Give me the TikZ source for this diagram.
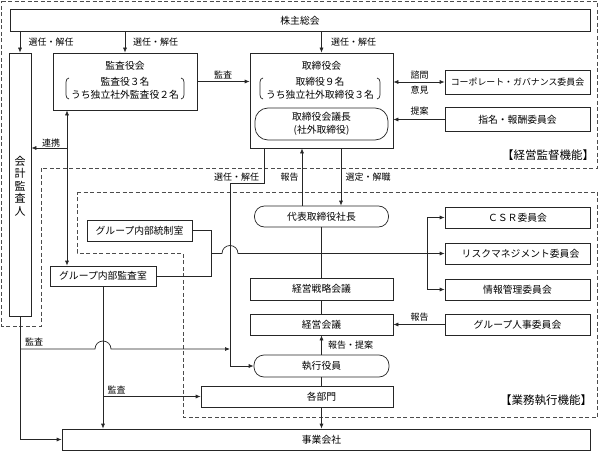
\documentclass[tikz,border=0pt]{standalone}
\usepackage{fontspec}
\setmainfont{Noto Sans CJK JP}
\usetikzlibrary{arrows.meta}
\begin{document}
\begin{tikzpicture}[x=1pt,y=-1pt,
  box/.style={draw=black!85, fill=white, line width=0.7pt, inner sep=0pt, minimum height=21pt, font=\fontsize{9.8}{11}\selectfont, align=center},
  rbox/.style={box, rounded corners=10pt},
  txt/.style={inner sep=0pt, font=\fontsize{9.8}{13}\selectfont, align=center},
  lbl/.style={inner sep=0pt, font=\fontsize{9}{10}\selectfont},
  conn/.style={line width=0.7pt, draw=black!85},
  arr/.style={conn, -{Latex[length=5pt,width=4pt]}},
  darr/.style={conn, {Latex[length=5pt,width=4pt]}-{Latex[length=5pt,width=4pt]}},
  brk/.style={line width=0.7pt, draw=black!85},
  zone/.style={draw=black!70, line width=0.7pt, dash pattern=on 4pt off 2.5pt},
  big/.style={inner sep=0pt, font=\fontsize{11.5}{13}\selectfont}]
\useasboundingbox (0,0) rectangle (600,452);
\fill[white] (0,0) rectangle (600,452);

% zones
\draw[zone] (1.5,1.5) -- (597.5,1.5) -- (597.5,168) -- (41,168) -- (41,326) -- (1.5,326) -- cycle;
\draw[zone] (77,192) -- (597.5,192) -- (597.5,417) -- (183,417) -- (183,253) -- (77,253) -- cycle;

% nodes
\node[box, minimum width=580pt, minimum height=22pt] (soukai) at (300,20.5) {株主総会};
\node[box, minimum width=22pt, minimum height=263pt] (kaikei) at (20,184.5) {};
\node[txt, font=\fontsize{11}{12.5}\selectfont] (kaikeiT) at (20,186) {会\\計\\監\\査\\人};

\node[box, minimum width=144pt, minimum height=57pt] (kansa) at (125,81.5) {};
\node[txt] (kansaT) at (125,66) {監査役会};
\node[txt] (kansaM) at (125,88.5) {監査役３名\\うち独立社外監査役２名};
\draw[brk] (69,78) to[out=180,in=90] (66,82) -- (66,95) to[out=-90,in=180] (69,99);
\draw[brk] (181,78) to[out=0,in=90] (184,82) -- (184,95) to[out=-90,in=0] (181,99);

\node[box, minimum width=143pt, minimum height=95pt] (torishimari) at (321.5,100.5) {};
\node[txt] (toriT) at (321.5,66) {取締役会};
\node[txt] (toriM) at (320,88.5) {取締役９名\\うち独立社外取締役３名};
\draw[brk] (263,78) to[out=180,in=90] (260,82) -- (260,95) to[out=-90,in=180] (263,99);
\draw[brk] (377,78) to[out=0,in=90] (380,82) -- (380,95) to[out=-90,in=0] (377,99);
\node[rbox, minimum width=133pt, minimum height=32pt, rounded corners=13pt, font=\fontsize{9.8}{13.5}\selectfont] (gichou) at (321.5,124) {取締役会議長\\(社外取締役)};

\node[box, minimum width=145pt, minimum height=24pt, font=\fontsize{8.9}{11}\selectfont] (cg) at (517.5,82) {コーポレート・ガバナンス委員会};
\node[box, minimum width=145pt, minimum height=24pt] (shimei) at (517.5,119.5) {指名・報酬委員会};

\node[rbox, minimum width=134pt] (daihyo) at (321.5,216.5) {代表取締役社長};
\node[box, minimum width=105pt] (tousei) at (139.5,230.5) {グループ内部統制室};
\node[box, minimum width=106pt, minimum height=20pt] (kansashitsu) at (103,276) {グループ内部監査室};

\node[box, minimum width=145pt] (csr) at (517.5,217.5) {ＣＳＲ委員会};
\node[box, minimum width=145pt] (risk) at (517.5,253.5) {\hspace*{6pt}リスクマネジメント委員会};
\node[box, minimum width=145pt] (joho) at (517.5,289.5) {情報管理委員会};

\node[box, minimum width=143pt, minimum height=22pt] (senryaku) at (321.5,289) {経営戦略会議};
\node[box, minimum width=143pt] (keiei) at (321.5,324.5) {経営会議};
\node[box, minimum width=145pt] (jinji) at (517.5,324.5) {グループ人事委員会};
\node[rbox, minimum width=135pt, minimum height=22pt] (shikkou) at (321.5,366) {執行役員};
\node[box, minimum width=192pt] (kakubu) at (297,396.5) {};
\node[txt] (kakubuT) at (321.5,396.5) {各部門};
\node[box, minimum width=528pt] (jigyou) at (326,439.5) {};
\node[txt] (jigyouT) at (321.5,439.5) {事業会社};

% coordinates
\coordinate (rk) at (67,148);
\coordinate (s1) at (264,183);
\coordinate (s2) at (230,183);
\coordinate (h1) at (302,0);
\coordinate (h2) at (341,0);
\coordinate (t1) at (211,0);
\coordinate (bx) at (427,0);
\coordinate (ka) at (20,349);

% connectors
\draw[arr] (soukai.south -| kaikei) -- (kaikei.north);
\draw[arr] (soukai.south -| kansa) -- (kansa.north);
\draw[arr] (soukai.south -| torishimari) -- (torishimari.north);
\draw[arr] (kansa.east) -- (torishimari.west |- kansa.east);
\draw[darr] (torishimari.east |- cg.west) -- (cg.west);
\draw[arr] (shimei.west) -- (torishimari.east |- shimei.west);
\draw[darr] (kansa.south -| rk) -- (kansashitsu.north -| rk);
\draw[arr] (rk) -- (kaikei.east |- rk);

\draw[arr] (torishimari.south -| s1) -- (s1) -- (s2) -- (s2 |- shikkou.west) -- (shikkou.west);
\draw[arr] (daihyo.north -| h1) -- (torishimari.south -| h1);
\draw[arr] (torishimari.south -| h2) -- (daihyo.north -| h2);

\draw[conn] (daihyo.south) -- (senryaku.north);
\draw[conn] (senryaku.south) -- (keiei.north);
\draw[arr] (shikkou.north) -- (keiei.south);
\draw[conn] (shikkou.south) -- (kakubu.north -| shikkou.south);
\draw[arr] (kakubu.south -| shikkou.south) -- (jigyou.north -| shikkou.south);
\draw[arr] (jinji.west) -- (keiei.east);

\draw[conn] (tousei.east) -- (tousei.east -| t1) -- (t1 |- kansashitsu.east) -- (kansashitsu.east);
\draw[arr] (t1 |- risk.west) -- ([xshift=-8pt]s2 |- risk.west) arc[start angle=180,end angle=0,radius=8pt] -- (risk.west);
\draw[conn] (bx |- csr.west) -- (bx |- joho.west);
\draw[arr] (bx |- csr.west) -- (csr.west);
\draw[arr] (bx |- joho.west) -- (joho.west);

\draw[arr] (kaikei.south) -- (kaikei.south |- jigyou.west) -- (jigyou.west);
\draw[arr] (ka) -- ([xshift=-8pt]kansashitsu.south |- ka) arc[start angle=180,end angle=0,radius=8pt] -- (s2 |- ka);
\draw[arr] (kansashitsu.south) -- (kansashitsu.south |- jigyou.north);
\draw[arr] (kansashitsu.south |- kakubu.west) -- (kakubu.west);

% labels
\node[lbl] (l1) at (51,42) {選任・解任};
\node[lbl] (l2) at (155.5,42) {選任・解任};
\node[lbl] (l3) at (353.5,42) {選任・解任};
\node[lbl] (l4) at (223,75) {監査};
\node[lbl] (l5) at (419.5,75) {諮問};
\node[lbl] (l6) at (419.5,90) {意見};
\node[lbl] (l7) at (419.5,111) {提案};
\node[lbl] (l8) at (51,143) {連携};
\node[lbl] (l9) at (236.5,177) {選任・解任};
\node[lbl] (l10) at (289.5,177) {報告};
\node[lbl] (l11) at (368,177) {選定・解職};
\node[lbl] (l12) at (419.5,317) {報告};
\node[lbl] (l13) at (350.5,345) {報告・提案};
\node[lbl] (l14) at (34,342) {監査};
\node[lbl] (l15) at (116.5,390) {監査};
\node[big] (z1) at (548,155) {【経営監督機能】};
\node[big] (z2) at (546,400) {【業務執行機能】};
\end{tikzpicture}
\end{document}
